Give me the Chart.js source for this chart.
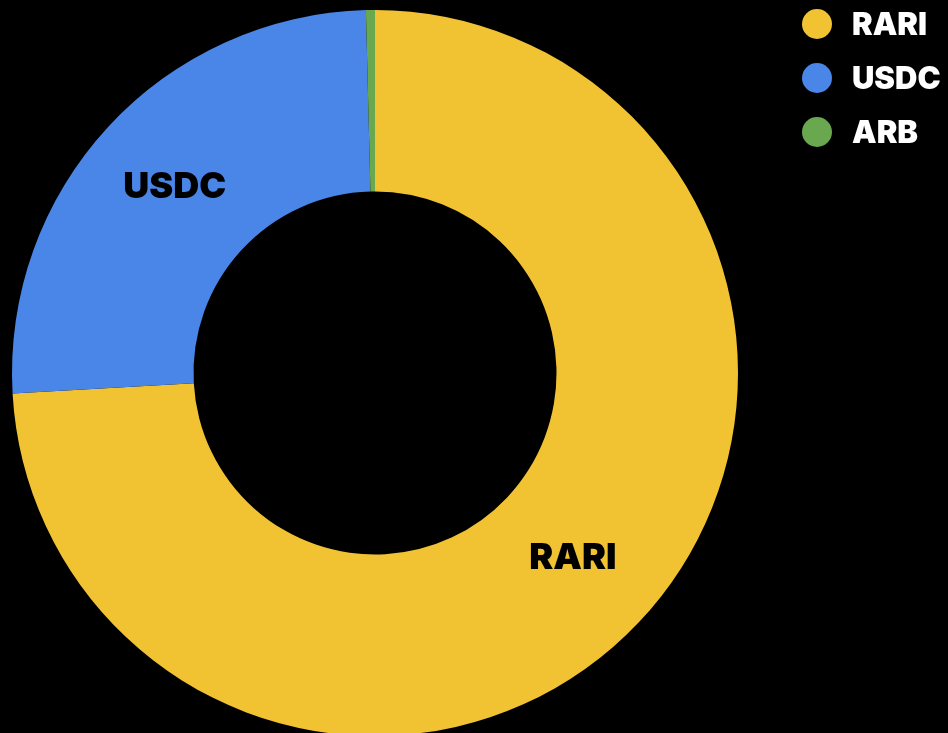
<!DOCTYPE html>
<html>
<head>
<meta charset="utf-8">
<script src="https://cdn.jsdelivr.net/npm/chart.js@4/dist/chart.umd.min.js"></script>
<style>
  html, body { margin: 0; padding: 0; background: #000; overflow: hidden; }
  #wrap { width: 948px; height: 745px; position: relative; }
</style>
</head>
<body>
<div id="wrap"><canvas id="chart"></canvas></div>
<script>
// Data
const labels = ["RARI", "USDC", "ARB"];
const shares = [74.1, 25.5, 0.4];
const sliceColors = ["#f1c232", "#4a86e8", "#6aa84f"];
// which slices get a label inside the ring
const showInside = [true, true, false];

const heavyFont = "Inter, 'Liberation Sans', Arial, sans-serif";

// Slice labels drawn at the centre of each arc
const sliceLabels = {
  id: "sliceLabels",
  afterDatasetsDraw(chart) {
    const ctx = chart.ctx;
    const meta = chart.getDatasetMeta(0);
    ctx.save();
    ctx.font = "900 36px " + heavyFont;
    ctx.fillStyle = "#000";
    ctx.textAlign = "center";
    ctx.textBaseline = "alphabetic";
    meta.data.forEach((arc, i) => {
      if (!showInside[i]) return;
      const p = arc.getCenterPoint();
      ctx.fillText(chart.data.labels[i], p.x, p.y + 9);
    });
    ctx.restore();
  },
};

// Legend in the top right corner
const sideLegend = {
  id: "sideLegend",
  afterDraw(chart) {
    const ctx = chart.ctx;
    ctx.save();
    ctx.font = "900 31px " + heavyFont;
    ctx.textBaseline = "alphabetic";
    ctx.textAlign = "left";
    chart.data.labels.forEach((label, i) => {
      const y = 24 + i * 54;
      ctx.beginPath();
      ctx.arc(817, y, 15, 0, Math.PI * 2);
      ctx.fillStyle = sliceColors[i];
      ctx.fill();
      ctx.fillStyle = "#fff";
      ctx.fillText(label, 852, y + 11);
    });
    ctx.restore();
  },
};

const ctx = document.getElementById("chart").getContext("2d");
new Chart(ctx, {
  type: "doughnut",
  data: {
    labels: labels,
    datasets: [
      {
        data: shares,
        backgroundColor: sliceColors,
        borderWidth: 0,
      },
    ],
  },
  options: {
    responsive: true,
    maintainAspectRatio: false,
    animation: false,
    cutout: "50%",
    layout: {
      padding: { top: 10, left: 12, right: 210, bottom: 9 },
    },
    events: [],
    plugins: {
      legend: { display: false },
      tooltip: { enabled: false },
    },
  },
  plugins: [sliceLabels, sideLegend],
});
</script>
</body>
</html>
